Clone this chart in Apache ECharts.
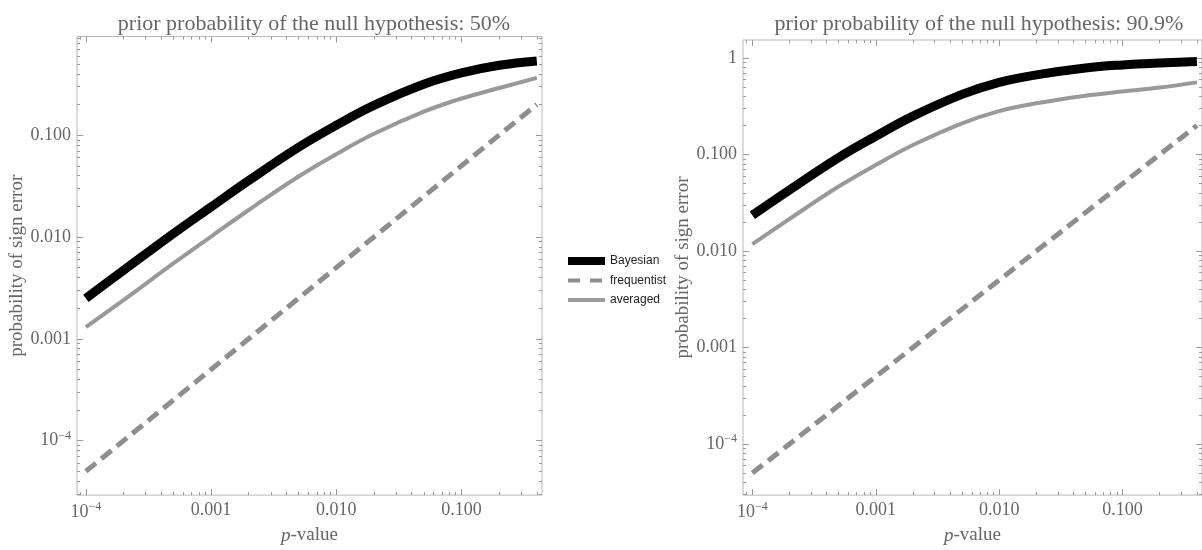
<!DOCTYPE html>
<html>
<head>
<meta charset="utf-8">
<script src="https://cdn.jsdelivr.net/npm/echarts@6/dist/echarts.min.js"></script>
<style>
html, body { margin: 0; padding: 0; background: #fff; }
#chart { width: 1202px; height: 550px; }
</style>
</head>
<body>
<div id="chart"></div>
<script>
// p-values sampled along the curves (x)
const pValues = [1e-4, 2e-4, 5e-4, 1e-3, 2e-3, 5e-3, 0.01, 0.02, 0.05, 0.1, 0.2, 0.4]
const frequentist = [5e-5, 1e-4, 2.5e-4, 5e-4, 1e-3, 2.5e-3, 5e-3, 0.01, 0.025, 0.05, 0.1, 0.2]
const bayesianLeft = [0.0025, 0.0047, 0.0108, 0.0197, 0.0358, 0.076, 0.125, 0.196, 0.316, 0.408, 0.485, 0.535]
const averagedLeft = [0.0013, 0.0024, 0.0055, 0.0101, 0.0184, 0.0392, 0.065, 0.103, 0.17, 0.229, 0.29, 0.365]
const bayesianRight = [0.0235, 0.043, 0.093, 0.155, 0.25, 0.42, 0.56, 0.67, 0.79, 0.85, 0.89, 0.92]
const averagedRight = [0.0118, 0.0215, 0.0466, 0.078, 0.1255, 0.211, 0.282, 0.34, 0.408, 0.45, 0.495, 0.56]

const xTicks = [1e-4, 1e-3, 1e-2, 1e-1]
const xTickLabels = ['10^-4', '0.001', '0.010', '0.100']
const yTicksLeft = [1e-4, 1e-3, 1e-2, 1e-1]
const yTickLabelsLeft = ['10^-4', '0.001', '0.010', '0.100']
const yTicksRight = [1e-4, 1e-3, 1e-2, 1e-1, 1]
const yTickLabelsRight = ['10^-4', '0.001', '0.010', '0.100', '1']

const titles = ['prior probability of the null hypothesis: 50%', 'prior probability of the null hypothesis: 90.9%']
const seriesNames = ['Bayesian', 'frequentist', 'averaged']

const SERIF = '"Liberation Serif", "DejaVu Serif", serif'
const TEXT_GRAY = '#666'
const FRAME = '#b8b8b8'
const TICK = '#9a9a9a'
const DASH = [13, 7]

// minor ticks 2..9 in every decade
const minorTicks = []
for (let k = -6; k <= 0; k++) {
    for (let m = 2; m <= 9; m++) {
        minorTicks.push(+(m * Math.pow(10, k)).toPrecision(3))
    }
}

function tickFormatter(ticks, labels) {
    return value => {
        const lg = Math.log10(value)
        for (let i = 0; i < ticks.length; i++) {
            if (Math.abs(lg - Math.log10(ticks[i])) < 0.01) {
                const s = labels[i]
                if (s.indexOf('^') >= 0) {
                    const parts = s.split('^')
                    return `{b|${parts[0]}}{s|${parts[1].replace('-', '\u2212')}}`
                }
                return s
            }
        }
        return ''
    }
}

const labelRich = {
    b: { fontFamily: SERIF, fontSize: 18, color: TEXT_GRAY },
    s: { fontFamily: SERIF, fontSize: 12, color: TEXT_GRAY, verticalAlign: 'top', padding: [0, 0, 10, 0] }
}

const xAxes = []
const yAxes = []

// one side of the frame: major ticks (+labels) and minor ticks
function addAxes(list, gridIndex, position, min, max, ticks, labels, extra) {
    const minors = minorTicks.filter(v => v > min && v < max)
    const base = {
        type: 'log', logBase: 10, gridIndex, position, min, max,
        axisLine: { show: false },
        splitLine: { show: false },
    }
    const mainIndex = list.length
    list.push(Object.assign({}, base, {
        axisTick: { show: true, inside: true, length: 6, customValues: ticks, lineStyle: { color: TICK } },
        axisLabel: labels ? {
            show: true, customValues: ticks, formatter: tickFormatter(ticks, labels),
            margin: 6, color: TEXT_GRAY, fontFamily: SERIF, fontSize: 18, rich: labelRich
        } : { show: false }
    }, extra || {}))
    list.push(Object.assign({}, base, {
        axisTick: { show: true, inside: true, length: 3, customValues: minors, lineStyle: { color: TICK } },
        axisLabel: { show: false }
    }))
    return mainIndex
}

const panels = [
    { grid: { left: 77, right: 660, top: 36.5, bottom: 48 }, xMin: 8.5e-5, xMax: 0.44, yMin: 2.92e-5, yMax: 0.93,
      yTicks: yTicksLeft, yLabels: yTickLabelsLeft, bayes: bayesianLeft, avg: averagedLeft, titleX: 309 },
    { grid: { left: 743, right: -5, top: 40, bottom: 48 }, xMin: 8.4e-5, xMax: 0.44, yMin: 2.95e-5, yMax: 1.54,
      yTicks: yTicksRight, yLabels: yTickLabelsRight, bayes: bayesianRight, avg: averagedRight, titleX: 974 }
]

const grids = []
const titleList = []
const series = []

panels.forEach((pn, g) => {
    grids.push(Object.assign({ show: true, borderColor: FRAME, borderWidth: 1, backgroundColor: 'transparent' }, pn.grid))
    titleList.push({
        text: titles[g], left: pn.titleX, top: 8, textAlign: 'center',
        textStyle: { fontFamily: SERIF, fontSize: 22, fontWeight: 'normal', color: TEXT_GRAY }
    })

    const xi = addAxes(xAxes, g, 'bottom', pn.xMin, pn.xMax, xTicks, xTickLabels, {
        name: '{i|p}{n|-value}', nameLocation: 'middle', nameGap: 30,
        nameTextStyle: {
            rich: {
                i: { fontFamily: SERIF, fontSize: 19, fontStyle: 'italic', color: TEXT_GRAY },
                n: { fontFamily: SERIF, fontSize: 19, color: TEXT_GRAY }
            }
        }
    })
    addAxes(xAxes, g, 'top', pn.xMin, pn.xMax, xTicks, null)
    const yi = addAxes(yAxes, g, 'left', pn.yMin, pn.yMax, pn.yTicks, pn.yLabels, {
        name: 'probability of sign error', nameLocation: 'middle', nameRotate: 90, nameGap: 50,
        nameTextStyle: { fontFamily: SERIF, fontSize: 19, color: TEXT_GRAY }
    })
    addAxes(yAxes, g, 'right', pn.yMin, pn.yMax, pn.yTicks, null)

    const toPoints = vals => pValues.map((p, i) => [p, vals[i]])
    series.push({
        name: seriesNames[1], type: 'line', xAxisIndex: xi, yAxisIndex: yi,
        data: toPoints(frequentist), symbol: 'none', z: 2,
        lineStyle: { color: '#8e8e8e', width: 5, type: DASH }, itemStyle: { color: '#8e8e8e' }
    })
    series.push({
        name: seriesNames[2], type: 'line', xAxisIndex: xi, yAxisIndex: yi,
        data: toPoints(pn.avg), symbol: 'none', smooth: 0.4, z: 3,
        lineStyle: { color: '#999', width: 4 }, itemStyle: { color: '#999' }
    })
    series.push({
        name: seriesNames[0], type: 'line', xAxisIndex: xi, yAxisIndex: yi,
        data: toPoints(pn.bayes), symbol: 'none', smooth: 0.4, z: 4,
        lineStyle: { color: '#000', width: 9 }, itemStyle: { color: '#000' }
    })
})

const hiddenSymbol = { color: 'rgba(0,0,0,0)', borderWidth: 0, opacity: 0 }

const chart = echarts.init(document.getElementById('chart'))
chart.setOption({
    animation: false,
    backgroundColor: '#fff',
    title: titleList,
    grid: grids,
    xAxis: xAxes,
    yAxis: yAxes,
    legend: {
        orient: 'vertical', left: 559, top: 250,
        itemWidth: 37, itemHeight: 14, itemGap: 7.5,
        textStyle: { fontFamily: '"Liberation Sans", Arial, sans-serif', fontSize: 12, color: '#222' },
        data: [
            { name: seriesNames[0], lineStyle: { width: 8, color: '#000' }, itemStyle: hiddenSymbol },
            { name: seriesNames[1], lineStyle: { width: 4, color: '#8e8e8e', type: [12, 10] }, itemStyle: hiddenSymbol },
            { name: seriesNames[2], lineStyle: { width: 4, color: '#999' }, itemStyle: hiddenSymbol }
        ]
    },
    series
})
</script>
</body>
</html>
